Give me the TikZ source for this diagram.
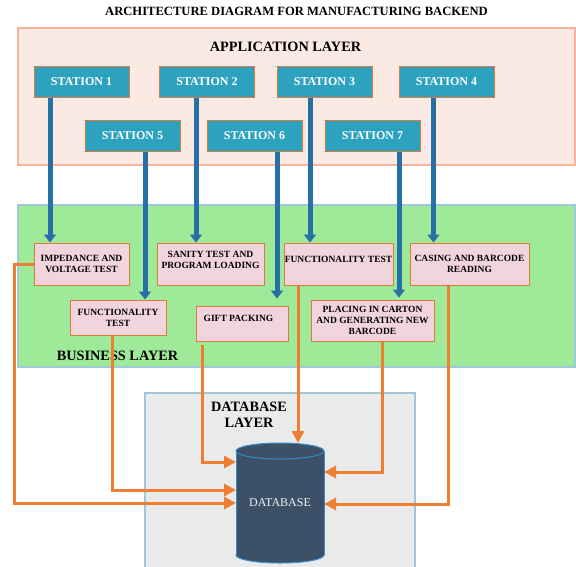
\documentclass[tikz,border=0pt]{standalone}
\usepackage{fontspec}
\setmainfont{Liberation Serif}
\usetikzlibrary{arrows.meta,fit}
\definecolor{appfill}{RGB}{251,233,228}
\definecolor{appline}{RGB}{246,180,155}
\definecolor{stfill}{RGB}{44,162,191}
\definecolor{boxline}{RGB}{224,122,58}
\definecolor{pinkfill}{RGB}{242,212,220}
\definecolor{busfill}{RGB}{158,234,152}
\definecolor{layline}{RGB}{160,200,216}
\definecolor{dbfillc}{RGB}{234,234,234}
\definecolor{cylfill}{RGB}{60,80,104}
\definecolor{cylline}{RGB}{52,140,200}
\definecolor{arrblue}{RGB}{38,112,166}
\definecolor{arrorange}{RGB}{238,126,50}
\begin{document}
\begin{tikzpicture}[x=1pt,y=-1pt,
  layerbox/.style={inner sep=0pt, outer sep=0pt, line width=1.2pt},
  stationbox/.style={draw=boxline, line width=1pt, fill=stfill, text=white,
    font=\fontsize{12}{14}\selectfont\bfseries, minimum width=95pt, minimum height=31pt, inner sep=0pt},
  taskbox/.style={draw=boxline, line width=1pt, fill=pinkfill,
    font=\fontsize{9.5}{11}\selectfont\bfseries, align=center, inner sep=0pt},
  tasktext/.style={font=\fontsize{9.5}{11}\selectfont\bfseries, align=center, inner sep=0pt},
  layertitle/.style={font=\fontsize{14.3}{16}\selectfont\bfseries, align=center, inner sep=0pt},
  bluearrow/.style={draw=arrblue, line width=5pt, -{Triangle[width=12pt,length=8pt]}},
  orangearrow/.style={draw=arrorange, line width=3pt, line join=miter, -{Triangle[width=12pt,length=12pt]}},
  cylborder/.style={draw=cylline, line width=1pt}
]
\useasboundingbox (0,0) rectangle (576,566);

% title
\node[font=\fontsize{12.6}{14}\selectfont\bfseries, inner sep=0pt] (title) at (296.5,11.5)
  {ARCHITECTURE DIAGRAM FOR MANUFACTURING BACKEND};

% layers
\node[layerbox, draw=appline, fill=appfill, fit={(18,28) (575,165)}] (app) {};
\node[layerbox, draw=layline, fill=busfill, fit={(18,205) (575,367)}] (bus) {};
\node[layerbox, draw=layline, fill=dbfillc, fit={(145,393) (415,580)}] (dbl) {};

\node[layertitle] (apptitle) at (285.5,47) {APPLICATION LAYER};
\node[layertitle] (bustitle) at (117.5,356) {BUSINESS LAYER};
\node[layertitle] (dbtitle) at (249,415) {DATABASE\\LAYER};

% stations
\node[stationbox] (st1) at (81.5,81.5) {STATION 1};
\node[stationbox] (st2) at (207,81.5) {STATION 2};
\node[stationbox] (st3) at (324.5,81.5) {STATION 3};
\node[stationbox] (st4) at (446.5,81.5) {STATION 4};
\node[stationbox] (st5) at (132.5,136) {STATION 5};
\node[stationbox] (st6) at (254.5,136) {STATION 6};
\node[stationbox] (st7) at (372.5,136) {STATION 7};

% business tasks
\node[taskbox, minimum width=95pt, minimum height=42pt] (imp) at (81.5,264) {IMPEDANCE AND\\VOLTAGE TEST};
\node[taskbox, minimum width=107pt, minimum height=42pt,
  label={[tasktext, yshift=4.5pt]center:{SANITY TEST AND\\PROGRAM LOADING}}] (san) at (210.5,264) {};
\node[taskbox, minimum width=109pt, minimum height=42pt,
  label={[tasktext, yshift=5pt]center:{FUNCTIONALITY TEST}}] (fr) at (338.5,264) {};
\node[taskbox, minimum width=119pt, minimum height=42pt] (cas) at (469.5,264) {CASING AND BARCODE\\READING};
\node[taskbox, minimum width=96pt, minimum height=35pt] (fl) at (118,317.5) {FUNCTIONALITY\\TEST};
\node[taskbox, minimum width=92pt, minimum height=35pt,
  label={[tasktext, yshift=5.5pt, xshift=-3.5pt]center:{GIFT PACKING}}] (gift) at (242,323.5) {};
\node[taskbox, minimum width=123pt, minimum height=41pt] (plc) at (372.5,320.5) {PLACING IN CARTON\\AND GENERATING NEW\\BARCODE};

% database cylinder
\filldraw[fill=cylfill, cylborder] (280,555) ellipse [x radius=44, y radius=8];
\fill[cylfill] (236,451) rectangle (324,555);
\draw[cylborder] (236,451) -- (236,555) (324,451) -- (324,555);
\filldraw[fill=cylfill, cylborder] (280,451) ellipse [x radius=44, y radius=8];
\node[inner sep=0pt, outer sep=0pt, minimum width=88pt, minimum height=104pt,
  text=white!90!gray, font=\fontsize{12}{14}\selectfont] (db) at (280,503) {DATABASE};
\coordinate (dbtop) at (280,443);

% station to task arrows
\draw[bluearrow] (st1.south -| 50,0) -- (imp.north -| 50,0);
\draw[bluearrow] (st2.south -| 196,0) -- (san.north -| 196,0);
\draw[bluearrow] (st3.south -| 310,0) -- (fr.north -| 310,0);
\draw[bluearrow] (st4.south -| 433.5,0) -- (cas.north -| 433.5,0);
\draw[bluearrow] (st5.south -| 145,0) -- (fl.north -| 145,0);
\draw[bluearrow, shorten >=7pt] (st6.south -| 277,0) -- (gift.north -| 277,0);
\draw[bluearrow, shorten >=2pt] (st7.south -| 399,0) -- (plc.north -| 399,0);

% task to database arrows
\draw[orangearrow] (imp.west) -- (imp.west -| 14,0) |- (db.west |- 0,503);
\draw[orangearrow] (fl.south -| 112,0) |- (db.west |- 0,490);
\draw[orangearrow, shorten <=3pt] (gift.south -| 202,0) |- (db.west |- 0,462);
\draw[orangearrow] (fr.south -| 298,0) -- (dbtop -| 298,0);
\draw[orangearrow] (plc.south -| 382,0) |- (db.east |- 0,472);
\draw[orangearrow] (cas.south -| 448,0) |- (db.east |- 0,504);
\end{tikzpicture}
\end{document}
